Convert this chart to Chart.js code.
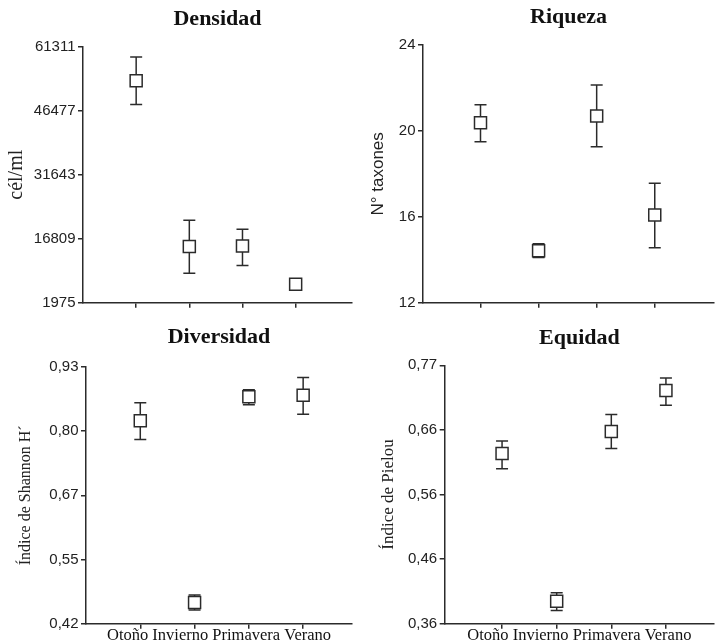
<!DOCTYPE html>
<html>
<head>
<meta charset="utf-8">
<script src="https://cdn.jsdelivr.net/npm/chart.js@4.4.0/dist/chart.umd.min.js"></script>
<style>
  html, body { margin: 0; padding: 0; background: #fff; }
  #wrap { position: relative; width: 724px; height: 644px; }
  .panel { position: absolute; width: 362px; height: 322px; }
</style>
</head>
<body>
<div id="wrap">
  <div class="panel" style="left:0;top:0"><canvas id="densChart"></canvas></div>
  <div class="panel" style="left:362px;top:0"><canvas id="riqChart"></canvas></div>
  <div class="panel" style="left:0;top:322px"><canvas id="divChart"></canvas></div>
  <div class="panel" style="left:362px;top:322px"><canvas id="eqChart"></canvas></div>
</div>
<script>
// Data
const seasons = ['Otoño', 'Invierno', 'Primavera', 'Verano'];

const densMean = [53400, 15000, 15100, 6240];
const densLow = [47900, 8800, 10600, 4900];
const densHigh = [58900, 21100, 19000, 7300];
const densRange = [1975, 61311];
const densTicks = ['1975', '16809', '31643', '46477', '61311'];

const riqMean = [20.38, 14.42, 20.69, 16.08];
const riqLow = [19.5, 14.1, 19.26, 14.56];
const riqHigh = [21.22, 14.75, 22.14, 17.56];
const riqRange = [12, 24];
const riqTicks = ['12', '16', '20', '24'];

const divMean = [0.823, 0.462, 0.871, 0.874];
const divLow = [0.786, 0.447, 0.855, 0.836];
const divHigh = [0.859, 0.477, 0.885, 0.909];
const divRange = [0.42, 0.93];
const divTicks = ['0,42', '0,55', '0,67', '0,80', '0,93'];

const eqMean = [0.630, 0.3955, 0.665, 0.730];
const eqLow = [0.606, 0.381, 0.638, 0.7065];
const eqHigh = [0.650, 0.409, 0.692, 0.750];
const eqRange = [0.36, 0.77];
const eqTicks = ['0,36', '0,46', '0,56', '0,66', '0,77'];

const INK = '#2b2b2b';
const SERIF = '"Liberation Serif", "Times New Roman", serif';
const SANS = '"Liberation Sans", Arial, sans-serif';

function makePanel(id, p) {
  const ctx = document.getElementById(id).getContext('2d');
  const errData = [];
  p.low.forEach((lo, i) => {
    errData.push({ x: i + 1, y: lo }, { x: i + 1, y: p.high[i] }, { x: i + 1, y: null });
  });
  const [yMin, yMax] = p.range;
  const yTitleFont = p.yFont;
  const titleSize = 22;
  const titleLH = titleSize * 1.2;

  return new Chart(ctx, {
    type: 'scatter',
    data: {
      datasets: [{
        data: p.mean.map((v, i) => ({ x: i + 1, y: v })),
        pointStyle: 'rect',
        pointRadius: 8.5,
        pointHoverRadius: 8.5,
        backgroundColor: '#fff',
        borderColor: INK,
        borderWidth: 1.5
      }, {
        data: errData,
        showLine: true,
        spanGaps: false,
        borderColor: INK,
        borderWidth: 1.5,
        pointStyle: 'line',
        pointRadius: 6,
        pointHoverRadius: 6,
        pointBorderColor: INK,
        pointBorderWidth: 1.5
      }]
    },
    options: {
      responsive: true,
      maintainAspectRatio: false,
      animation: false,
      events: [],
      layout: { padding: { left: 0, top: 0, bottom: 0, right: 362 - p.right } },
      plugins: {
        legend: { display: false },
        tooltip: { enabled: false },
        title: {
          display: true,
          text: p.title,
          fullSize: false,
          color: '#111',
          font: { family: SERIF, size: titleSize, weight: 'bold' },
          padding: { top: p.titleY - titleLH / 2, bottom: p.top - (p.titleY - titleLH / 2) - titleLH }
        }
      },
      scales: {
        x: {
          type: 'linear',
          min: p.xMin,
          max: p.xMax,
          afterBuildTicks: s => { s.ticks = seasons.map((_, i) => ({ value: i + 1 })); },
          afterFit: s => { s.height = 322 - p.bottom; },
          ticks: { display: false },
          grid: { display: true, drawOnChartArea: false, drawTicks: true, tickLength: 5, color: INK, lineWidth: 1.5 },
          border: { display: true, color: INK, width: 1.5 },
          title: {
            display: p.showX,
            text: seasons.join(' '),
            color: '#111',
            font: { family: SERIF, size: 16.5, lineHeight: 1.0 },
            padding: 0
          }
        },
        y: {
          type: 'linear',
          min: yMin,
          max: yMax,
          afterBuildTicks: s => {
            const n = p.ticks.length - 1;
            s.ticks = p.ticks.map((_, k) => ({ value: yMin + k * (yMax - yMin) / n }));
          },
          afterFit: s => { s.width = p.left; },
          ticks: {
            color: '#222',
            padding: 2.5,
            font: { family: SANS, size: 15 },
            callback: (v, i) => p.ticks[i]
          },
          grid: { display: true, drawOnChartArea: false, drawTicks: true, tickLength: 5, color: INK, lineWidth: 1.5 },
          border: { display: true, color: INK, width: 1.5 },
          title: {
            display: true,
            text: p.yTitle,
            color: '#222',
            font: yTitleFont,
            padding: { top: p.yTitleX - yTitleFont.size * 0.6, bottom: 0 }
          }
        }
      }
    }
  });
}

makePanel('densChart', {
  title: 'Densidad', yTitle: 'cél/ml',
  yFont: { family: SERIF, size: 20 },
  mean: densMean, low: densLow, high: densHigh, range: densRange, ticks: densTicks,
  left: 83, right: 358, top: 46.7, bottom: 302.7, xMin: 0, xMax: 5.06,
  titleY: 19.7, yTitleX: 16.7, showX: false
});

makePanel('riqChart', {
  title: 'Riqueza', yTitle: 'N° taxones',
  yFont: { family: SANS, size: 17 },
  mean: riqMean, low: riqLow, high: riqHigh, range: riqRange, ticks: riqTicks,
  left: 61, right: 356.7, top: 45, bottom: 302.7, xMin: 0.01, xMax: 5.02,
  titleY: 17.5, yTitleX: 16.7, showX: false
});

makePanel('divChart', {
  title: 'Diversidad', yTitle: 'Índice de Shannon H´',
  yFont: { family: SERIF, size: 16 },
  mean: divMean, low: divLow, high: divHigh, range: divRange, ticks: divTicks,
  left: 86, right: 361.5, top: 45, bottom: 301.7, xMin: 0, xMax: 4.9,
  titleY: 15.5, yTitleX: 26, showX: true
});

makePanel('eqChart', {
  title: 'Equidad', yTitle: 'Índice de Pielou',
  yFont: { family: SERIF, size: 17 },
  mean: eqMean, low: eqLow, high: eqHigh, range: eqRange, ticks: eqTicks,
  left: 82.7, right: 360, top: 43.3, bottom: 301.7, xMin: -0.05, xMax: 4.88,
  titleY: 16.5, yTitleX: 26.7, showX: true
});
</script>
</body>
</html>
